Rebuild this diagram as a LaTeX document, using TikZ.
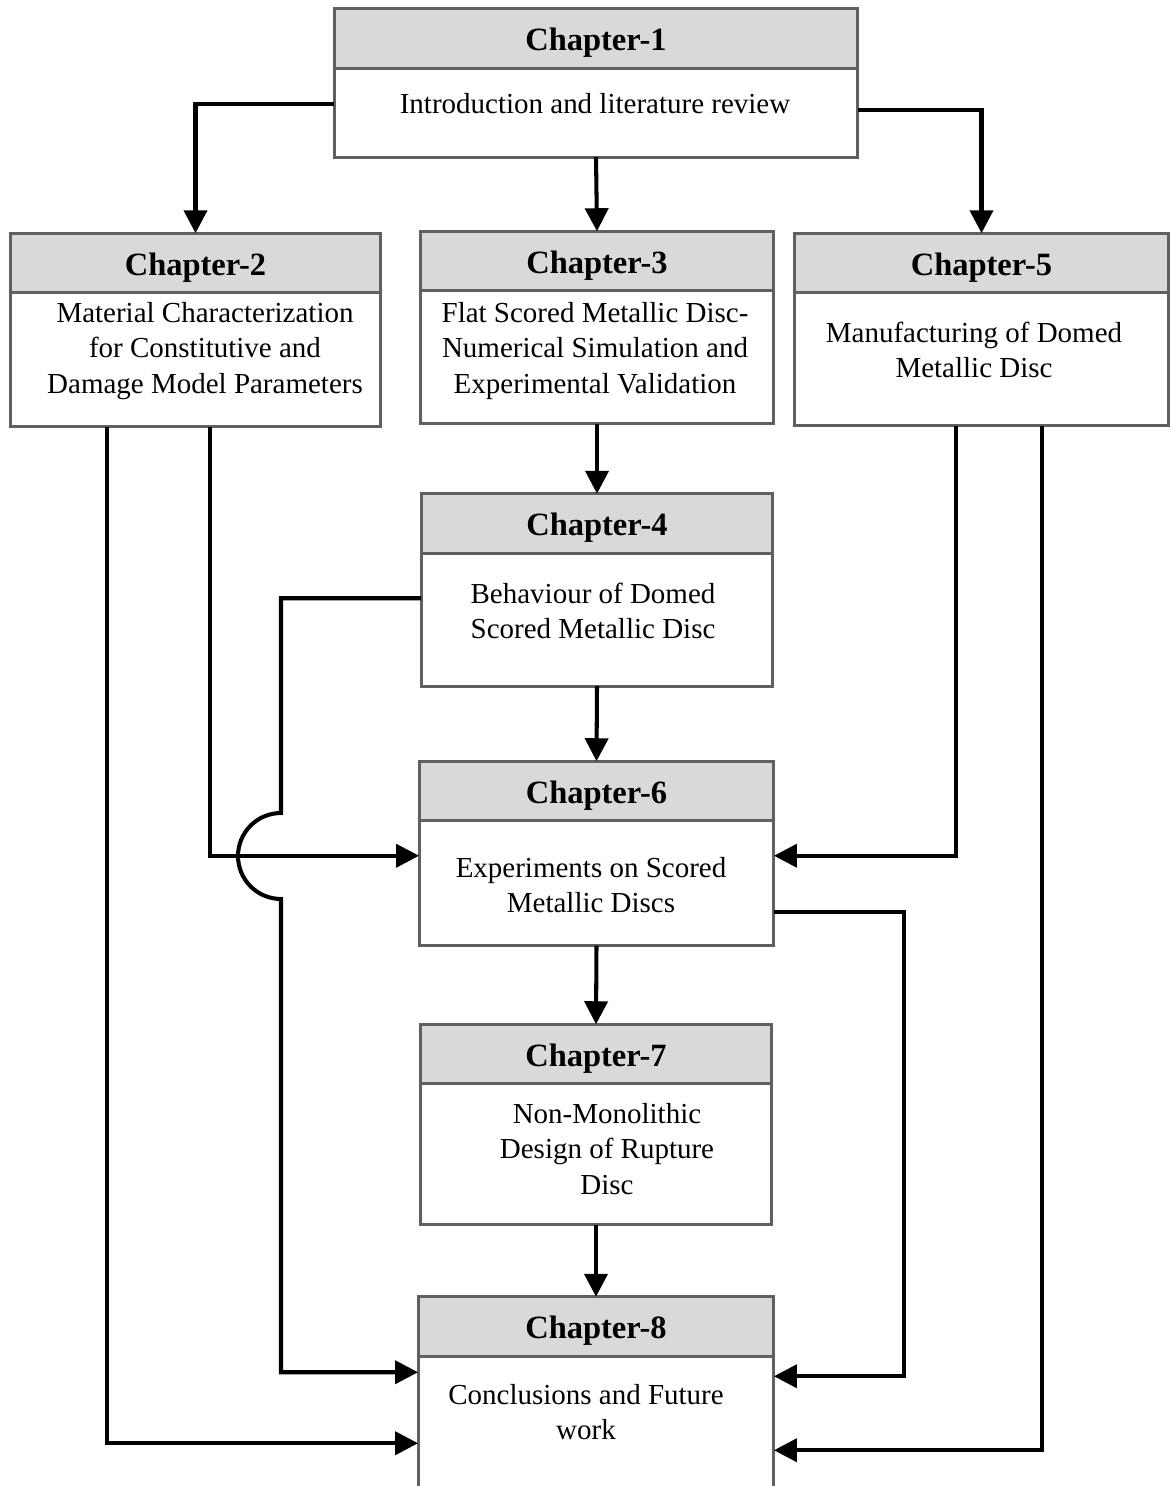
\documentclass[tikz,border=0pt]{standalone}
\usepackage{fontspec}
\setmainfont{Liberation Serif}
\usepackage{tikz}
\usetikzlibrary{positioning,arrows.meta}

\begin{document}
\begin{tikzpicture}[x=0.02cm, y=0.02cm,
  chhead/.style={draw=boxGray, line width=1.7pt, fill=headGray, outer sep=0pt,
    minimum height=1.19cm, text height=14pt, text depth=0pt,
    font=\fontsize{18.5}{22}\selectfont\bfseries},
  chbody/.style={draw=boxGray, line width=1.7pt, fill=white, outer sep=0pt},
  chtext/.style={align=center, inner sep=0pt, font=\fontsize{16.5}{20}\selectfont},
  conn/.style={draw=black, line width=2.3pt, -{Triangle[length=0.46cm,width=0.46cm]}}]

% Colori
\definecolor{headGray}{HTML}{D9D9D9}
\definecolor{boxGray}{HTML}{606060}

\useasboundingbox (0,0) rectangle (1170,-1486);

% Capitolo 1
\node[chhead, minimum width=10.48cm] (h1) at (596,-38.5) {Chapter-1};
\node[chbody, minimum width=10.48cm, minimum height=1.78cm, below=0pt of h1] (b1) {};
\node[chtext] (t1) at (595,-104) {Introduction and literature review};

% Capitolo 2
\node[chhead, minimum width=7.42cm] (h2) at (195.5,-263) {Chapter-2};
\node[chbody, minimum width=7.42cm, minimum height=2.68cm, below=0pt of h2] (b2) {};
\node[chtext] (t2) at (205,-351) {Material Characterization\\for Constitutive and\\Damage Model Parameters};

% Capitolo 3
\node[chhead, minimum width=7.08cm] (h3) at (597,-261) {Chapter-3};
\node[chbody, minimum width=7.08cm, minimum height=2.66cm, below=0pt of h3] (b3) {};
\node[chtext] (t3) at (595,-351) {Flat Scored Metallic Disc-\\Numerical Simulation and\\Experimental Validation};

% Capitolo 5
\node[chhead, minimum width=7.5cm] (h5) at (981.5,-263) {Chapter-5};
\node[chbody, minimum width=7.5cm, minimum height=2.66cm, below=0pt of h5] (b5) {};
\node[chtext] (t5) at (974,-350) {Manufacturing of Domed\\Metallic Disc};

% Capitolo 4
\node[chhead, minimum width=7.04cm] (h4) at (597,-523.5) {Chapter-4};
\node[chbody, minimum width=7.04cm, minimum height=2.66cm, below=0pt of h4] (b4) {};
\node[chtext] (t4) at (593,-611) {Behaviour of Domed\\Scored Metallic Disc};

% Capitolo 6
\node[chhead, minimum width=7.1cm] (h6) at (596.5,-791) {Chapter-6};
\node[chbody, minimum width=7.1cm, minimum height=2.5cm, below=0pt of h6] (b6) {};
\node[chtext] (t6) at (591,-885) {Experiments on Scored\\Metallic Discs};

% Capitolo 7
\node[chhead, minimum width=7.04cm] (h7) at (596,-1054) {Chapter-7};
\node[chbody, minimum width=7.04cm, minimum height=2.82cm, below=0pt of h7] (b7) {};
\node[chtext] (t7) at (607,-1149) {Non-Monolithic\\Design of Rupture\\Disc};

% Capitolo 8 (tagliato in basso)
\node[chhead, minimum width=7.12cm] (h8) at (596,-1326.5) {Chapter-8};
\node[chbody, minimum width=7.12cm, minimum height=3cm, below=0pt of h8] (b8) {};
\node[chtext] (t8) at (586,-1412) {Conclusions and Future\\work};

% Frecce principali
\draw[conn] ([yshift=0.17cm]b1.west) -| (h2);
\draw[conn] ([yshift=0.05cm]b1.east) -| (h5);
\draw[conn] (b1.south) -- (h3.north);
\draw[conn] (b3.south) -- (h4.north);
\draw[conn] (b4.south) -- (h6.north);
\draw[conn] (b6.south) -- (h7.north);
\draw[conn] (b7.south) -- (h8.north);

% Collegamenti laterali
\draw[conn] ([xshift=0.29cm]b2.south) |- ([yshift=0.55cm]b6.west);
\draw[conn] ([xshift=-1.77cm]b2.south) |- ([yshift=-0.24cm]b8.west);
\draw[conn] ([xshift=-0.51cm]b5.south) |- ([yshift=0.55cm]b6.east);
\draw[conn] ([xshift=1.21cm]b5.south) |- ([yshift=-0.38cm]b8.east);
\draw[conn] ([yshift=-0.57cm]b6.east) -- ++(2.6cm,0) |- ([yshift=1.1cm]b8.east);

% Capitolo 4 -> 8 con scavalcamento
\coordinate (jumpTop) at (281,-813);
\draw[conn] ([yshift=0.43cm]b4.west) -| (jumpTop)
  arc[start angle=90, end angle=270, radius=0.86cm] |- ([yshift=1.18cm]b8.west);

\end{tikzpicture}
\end{document}
